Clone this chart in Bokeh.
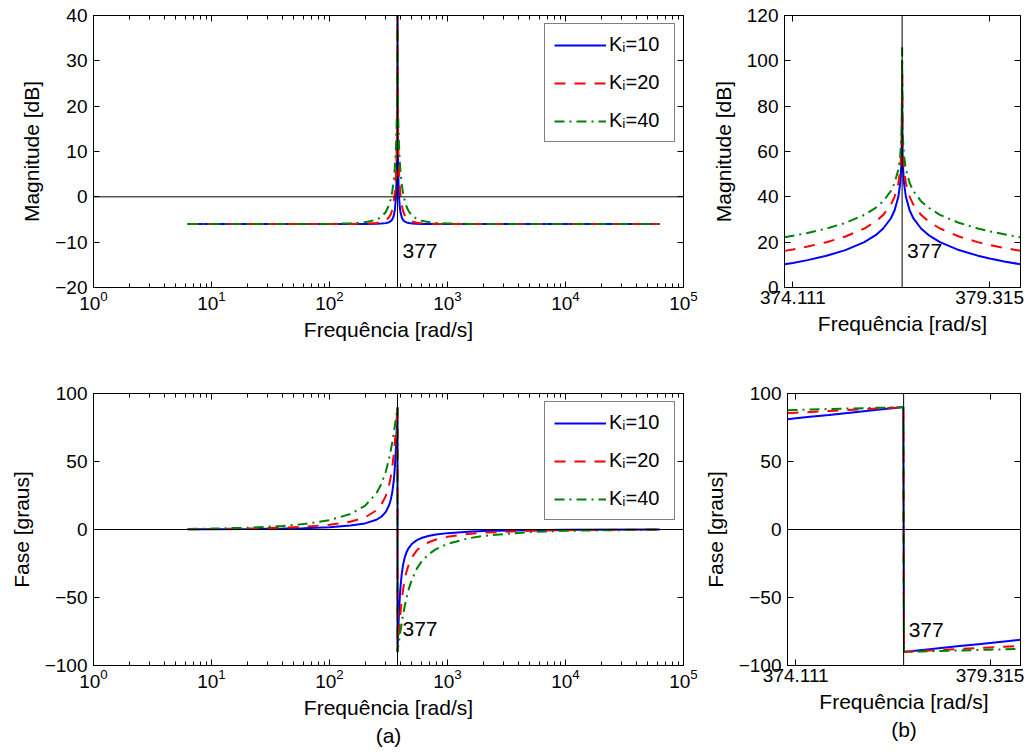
from bokeh.plotting import figure
from bokeh.models import (Range1d, FixedTicker, LogAxis, LinearAxis, Span, Label,
                          LogTickFormatter, Title)
from bokeh.layouts import column, row
from bokeh.embed import file_html
from bokeh.resources import INLINE

# ---------------- data ----------------
W0 = 377.0
KI_LABELS = ["K\u1d62=10", "K\u1d62=20", "K\u1d62=40"]
COLORS = ["#0000ff", "#ff0000", "#008000"]
DASHES = ["solid", "11 9", "10 5 2 5"]

# full-range frequency axis [rad/s]
W_FULL_MAG = [6.28, 10, 20, 40, 60, 100, 150, 200, 250, 275, 300, 320, 330, 340, 350, 358,
              365, 370, 372, 374, 376, 376.9, 377.0, 377.1, 378, 380, 382, 385, 390, 395,
              400, 410, 420, 435, 450, 470, 500, 550, 600, 700, 800, 1000, 1500, 2000,
              5000, 10000, 62832]
MAG_FULL_10 = [-6.02, -6.02, -6.02, -6.02, -6.02, -6.02, -6.01, -5.99, -5.95, -5.90, -5.80,
               -5.59, -5.38, -5.01, -4.23, -2.90, -0.35, 3.53, 6.23, 10.52, 20.00, 40.00,
               94.0, 40.00, 20.02, 10.59, 6.34, 2.66, -0.65, -2.42, -3.46, -4.56, -5.09,
               -5.47, -5.65, -5.78, -5.87, -5.94, -5.97, -5.99, -6.00, -6.01, -6.02, -6.02,
               -6.02, -6.02, -6.02]
MAG_FULL_20 = [-6.02, -6.02, -6.02, -6.02, -6.01, -6.01, -5.98, -5.92, -5.76, -5.57, -5.19,
               -4.51, -3.90, -2.90, -1.20, 1.15, 4.68, 9.17, 12.05, 16.47, 26.01, 46.02,
               100.0, 46.02, 26.03, 16.54, 12.16, 8.22, 4.31, 1.88, 0.22, -1.88, -3.10,
               -4.13, -4.70, -5.13, -5.46, -5.71, -5.82, -5.91, -5.95, -5.98, -6.01, -6.01,
               -6.02, -6.02, -6.02]
MAG_FULL_40 = [-6.02, -6.02, -6.02, -6.01, -6.00, -5.96, -5.85, -5.61, -5.04, -4.44, -3.35,
               -1.77, -0.55, 1.14, 3.59, 6.49, 10.42, 15.09, 18.02, 22.47, 32.03, 52.04,
               106.0, 52.04, 32.05, 22.54, 18.14, 14.11, 10.02, 7.34, 5.39, 2.66, 0.83,
               -0.99, -2.18, -3.21, -4.12, -4.88, -5.25, -5.59, -5.74, -5.87, -5.97, -5.99,
               -6.01, -6.02, -6.02]

W_FULL_PH = [6.28, 10, 20, 40, 60, 100, 150, 200, 250, 275, 300, 320, 330, 340, 350, 358,
             365, 370, 372, 374, 376, 376.9, 377.1, 378, 380, 382, 385, 390, 395,
             400, 410, 420, 435, 450, 470, 500, 550, 600, 700, 800, 1000, 1500, 2000,
             5000, 10000, 62832]
PH_FULL_10 = [0.10, 0.16, 0.32, 0.65, 0.99, 1.73, 2.87, 4.48, 7.16, 9.39, 12.96, 17.86,
              21.66, 27.14, 35.50, 45.72, 58.62, 70.54, 75.87, 81.44, 87.13, 89.71,
              -89.71, -87.14, -81.50, -76.05, -68.41, -57.41, -48.67, -41.84, -32.27,
              -26.12, -20.28, -16.60, -13.42, -10.50, -7.81, -6.29, -4.60, -3.68, -2.67,
              -1.63, -1.19, -0.46, -0.23, -0.04]
PH_FULL_20 = [0.20, 0.32, 0.65, 1.30, 1.98, 3.47, 5.73, 8.90, 14.10, 18.31, 24.72, 32.80,
              38.47, 45.72, 54.97, 64.01, 73.04, 79.98, 82.83, 85.69, 88.57, 89.86,
              -89.86, -88.57, -85.73, -82.92, -78.80, -72.28, -66.27, -60.82, -51.63,
              -44.43, -36.46, -30.81, -25.52, -20.34, -15.34, -12.42, -9.15, -7.33, -5.33,
              -3.26, -2.37, -0.92, -0.46, -0.07]
PH_FULL_40 = [0.41, 0.65, 1.29, 2.61, 3.96, 6.90, 11.34, 17.40, 26.67, 33.49, 42.64, 52.19,
              57.82, 64.00, 70.68, 76.30, 81.33, 84.95, 86.40, 87.84, 89.28, 89.93,
              -89.93, -89.28, -87.86, -86.45, -84.35, -80.92, -77.60, -74.40, -68.40,
              -62.98, -55.92, -50.02, -43.67, -36.56, -28.76, -23.78, -17.85, -14.42,
              -10.57, -6.50, -4.74, -1.84, -0.92, -0.15]

# zoomed frequency axis around 377 rad/s
W_ZOOM_MAG = [373.89, 374.111, 374.5, 375, 375.5, 376, 376.3, 376.5, 376.7, 376.8, 376.9,
              376.95, 376.98, 376.99, 377.0, 377.01, 377.02, 377.05, 377.1, 377.2, 377.3,
              377.5, 377.7, 378, 378.5, 379, 379.315, 379.7, 380.13]
MAG_ZOOM_10 = [10.21, 10.84, 12.08, 14.00, 16.49, 20.00, 23.10, 26.02, 30.45, 33.98, 40.00,
               46.02, 53.98, 60.00, 94.0, 60.00, 53.98, 46.02, 40.00, 33.98, 30.46, 26.03,
               23.11, 20.02, 16.52, 14.05, 12.79, 11.48, 10.23]
MAG_ZOOM_20 = [16.16, 16.80, 18.05, 19.99, 22.49, 26.01, 29.11, 32.04, 36.47, 40.00, 46.02,
               52.04, 60.00, 66.02, 100.0, 66.02, 60.00, 52.04, 46.02, 40.00, 36.48, 32.05,
               29.13, 26.03, 22.52, 20.03, 18.77, 17.44, 16.17]
MAG_ZOOM_40 = [22.16, 22.80, 24.06, 26.00, 28.50, 32.03, 35.13, 38.06, 42.50, 46.02, 52.04,
               58.06, 66.02, 72.04, 106.0, 72.04, 66.02, 58.06, 52.04, 46.02, 42.50, 38.07,
               35.15, 32.05, 28.54, 26.04, 24.78, 23.45, 22.17]

W_ZOOM_PH = [373.89, 374.111, 374.5, 375, 375.5, 376, 376.3, 376.5, 376.7, 376.8, 376.9,
             376.95, 376.98, 376.99, 377.01, 377.02, 377.05, 377.1, 377.2, 377.3,
             377.5, 377.7, 378, 378.5, 379, 379.315, 379.7, 380.13]
PH_ZOOM_10 = [81.12, 81.75, 82.85, 84.27, 85.70, 87.13, 87.99, 88.57, 89.14, 89.43, 89.71,
              89.86, 89.94, 89.97, -89.97, -89.94, -89.86, -89.71, -89.43, -89.14, -88.57,
              -88.00, -87.14, -85.72, -84.31, -83.42, -82.34, -81.14]
PH_ZOOM_20 = [85.54, 85.85, 86.41, 87.13, 87.85, 88.57, 89.00, 89.28, 89.57, 89.71, 89.86,
              89.93, 89.97, 89.99, -89.99, -89.97, -89.93, -89.86, -89.71, -89.57, -89.28,
              -89.00, -88.57, -87.86, -87.14, -86.70, -86.15, -85.54]
PH_ZOOM_40 = [87.76, 87.92, 88.20, 88.56, 88.92, 89.28, 89.50, 89.64, 89.79, 89.86, 89.93,
              89.96, 89.99, 89.99, -89.99, -89.99, -89.96, -89.93, -89.86, -89.79, -89.64,
              -89.50, -89.28, -88.93, -88.57, -88.35, -88.07, -87.77]

MAG_TICKS_A = [-20, -10, 0, 10, 20, 30, 40]
MAG_TICKS_B = [0, 20, 40, 60, 80, 100, 120]
PH_TICKS = [-100, -50, 0, 50, 100]
LOG_TICKS = [1, 10, 100, 1000, 10000, 100000]
ZOOM_TICKS = [374.111, 379.315]
CAPTIONS = ["(a)", "(b)"]

FONT = "Liberation Sans"


def minus(v):
    s = ("%g" % v)
    return s.replace("-", "\u2212")


def style_axis(ax, labels=True, minor=False):
    ax.axis_line_color = "black"
    ax.axis_line_width = 1
    ax.major_tick_line_color = "black"
    ax.major_tick_in = 6
    ax.major_tick_out = 0
    if minor:
        ax.minor_tick_line_color = "black"
        ax.minor_tick_in = 4
        ax.minor_tick_out = 0
    else:
        ax.minor_tick_line_color = None
    ax.major_label_text_font = FONT
    ax.major_label_text_color = "black"
    ax.axis_label_text_font = FONT
    ax.axis_label_text_font_size = "21px"
    ax.axis_label_text_font_style = "normal"
    ax.axis_label_text_color = "black"
    if labels:
        ax.major_label_text_font_size = "19px"
    else:
        ax.major_label_text_font_size = "1px"
        ax.major_label_text_alpha = 0
        ax.major_label_standoff = 0


def make_fig(xlog, xr, yr, width, height, mb):
    p = figure(width=width, height=height,
               x_axis_type="log" if xlog else "linear",
               x_range=Range1d(*xr), y_range=Range1d(*yr),
               output_backend="svg", toolbar_location=None,
               min_border_left=mb[0], min_border_right=mb[1],
               min_border_top=mb[2], min_border_bottom=mb[3])
    p.xgrid.visible = False
    p.ygrid.visible = False
    p.outline_line_color = "black"
    p.background_fill_color = "white"
    p.border_fill_color = "white"
    return p


def decorate(p, xlog, yticks, ylabel, xticks, minor_x):
    if xlog:
        xt = FixedTicker(ticks=LOG_TICKS, minor_ticks=minor_x)
    else:
        xt = FixedTicker(ticks=xticks)
    yt = FixedTicker(ticks=yticks)
    p.xaxis.ticker = xt
    p.yaxis.ticker = yt
    if xlog:
        p.xaxis.formatter = LogTickFormatter()
    else:
        p.xaxis.major_label_overrides = {v: ("%.3f" % v) for v in xticks}
    p.yaxis.major_label_overrides = {v: minus(v) for v in yticks}
    style_axis(p.xaxis[0], True, xlog)
    style_axis(p.yaxis[0], True, False)
    p.xaxis.axis_label = "Frequência [rad/s]"
    p.yaxis.axis_label = ylabel
    p.xaxis.major_label_standoff = 3
    p.yaxis.major_label_standoff = 6
    p.xaxis.axis_label_standoff = 5
    p.yaxis.axis_label_standoff = 9
    top = LogAxis(ticker=xt) if xlog else LinearAxis(ticker=xt)
    style_axis(top, False, xlog)
    p.add_layout(top, "above")
    right = LinearAxis(ticker=yt)
    style_axis(right, False, False)
    p.add_layout(right, "right")


minor_log = [m * 10 ** e for e in range(0, 5) for m in range(2, 10)]

# geometry (page origin at 0,0)
LW, RW = 700, 328
TH, BH = 370, 384
MB_TL = (93, 17, 15, 83)
MB_TR = (84, 8, 15, 83)
MB_BL = (93, 17, 23, 89)
MB_BR = (84, 8, 23, 89)

p1 = make_fig(True, (1, 1e5), (-20, 40), LW, TH, MB_TL)
p2 = make_fig(False, (373.89, 380.13), (0, 120), RW, TH, MB_TR)
p3 = make_fig(True, (1, 1e5), (-100, 100), LW, BH, MB_BL)
p4 = make_fig(False, (373.89, 380.13), (-100, 100), RW, BH, MB_BR)

decorate(p1, True, MAG_TICKS_A, "Magnitude [dB]", None, minor_log)
decorate(p2, False, MAG_TICKS_B, "Magnitude [dB]", ZOOM_TICKS, None)
decorate(p3, True, PH_TICKS, "Fase [graus]", None, minor_log)
decorate(p4, False, PH_TICKS, "Fase [graus]", ZOOM_TICKS, None)

series = [
    (p1, W_FULL_MAG, [MAG_FULL_10, MAG_FULL_20, MAG_FULL_40], True),
    (p2, W_ZOOM_MAG, [MAG_ZOOM_10, MAG_ZOOM_20, MAG_ZOOM_40], False),
    (p3, W_FULL_PH, [PH_FULL_10, PH_FULL_20, PH_FULL_40], True),
    (p4, W_ZOOM_PH, [PH_ZOOM_10, PH_ZOOM_20, PH_ZOOM_40], False),
]
for p, xs, ys_list, with_legend in series:
    for ys, c, d, lab in zip(ys_list, COLORS, DASHES, KI_LABELS):
        kw = dict(legend_label=lab) if with_legend else {}
        p.line(xs, ys, line_color=c, line_width=2, line_dash=d, **kw)

# reference lines and 377 markers
for p, show_h, ylab in [(p1, True, -12), (p2, False, 16), (p3, True, -73), (p4, True, -74)]:
    p.add_layout(Span(location=W0, dimension="height", line_color="black", line_width=1))
    if show_h:
        p.add_layout(Span(location=0, dimension="width", line_color="black", line_width=1))
    p.add_layout(Label(x=W0, y=ylab, x_offset=5, text="%d" % W0, text_baseline="middle",
                       text_font=FONT, text_font_size="21px", text_color="black"))

for p in (p1, p3):
    lg = p.legend[0]
    lg.location = "top_right"
    lg.margin = 8
    lg.padding = 9
    lg.spacing = 15
    lg.glyph_width = 52
    lg.glyph_height = 20
    lg.label_standoff = 3
    lg.label_width = 56
    lg.label_text_font = FONT
    lg.label_text_font_size = "20px"
    lg.label_text_color = "black"
    lg.border_line_color = "black"
    lg.border_line_width = 1
    lg.background_fill_alpha = 1.0

# captions under the lower panels
for p, cap in zip((p3, p4), CAPTIONS):
    p.add_layout(Title(text=cap, align="center", text_font=FONT, text_font_size="21px",
                       text_font_style="normal", text_color="black", standoff=0,
                       offset=0), "below")

layout = column(row(p1, p2), row(p3, p4))
open("out.html", "w").write(file_html(layout, INLINE))
